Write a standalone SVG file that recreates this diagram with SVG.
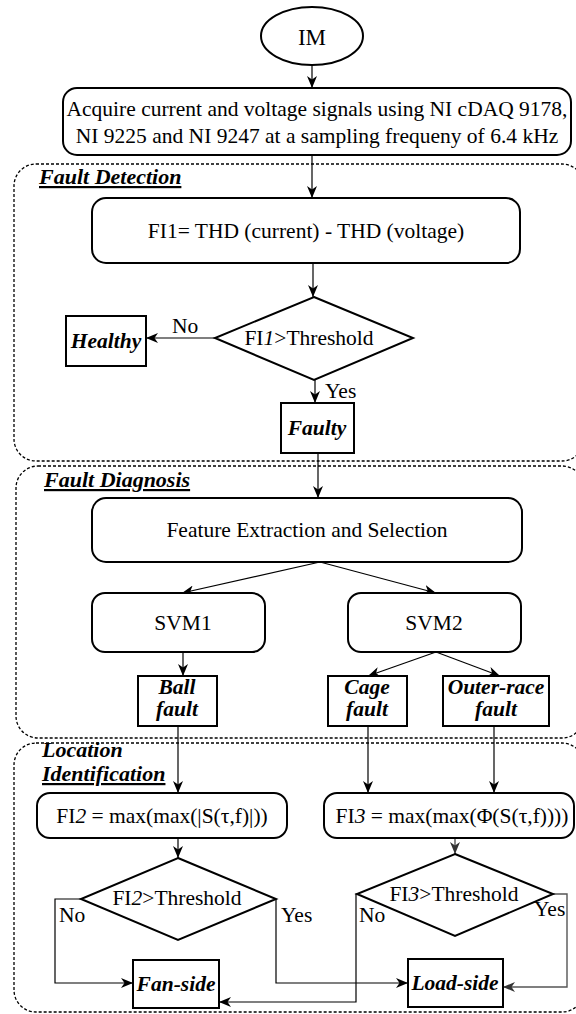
<svg xmlns="http://www.w3.org/2000/svg" width="576" height="1014" viewBox="0 0 576 1014">
<defs>
<marker id="ah" viewBox="0 0 12 10" refX="12" refY="5" markerWidth="12" markerHeight="10" markerUnits="userSpaceOnUse" orient="auto">
<path d="M0,0 L12,5 L0,10 L3.5,5 z" fill="#000"/>
</marker>
<marker id="ahg" viewBox="0 0 12 10" refX="12" refY="5" markerWidth="12" markerHeight="10" markerUnits="userSpaceOnUse" orient="auto">
<path d="M0,0 L12,5 L0,10 L3.5,5 z" fill="#333"/>
</marker>
</defs>
<style>
.box{fill:#fff;stroke:#000;stroke-width:2}
.sec{fill:none;stroke:#000;stroke-width:1.3;stroke-dasharray:3,2}
.ln{fill:none;stroke:#000;stroke-width:1.2}
.lg{fill:none;stroke:#555;stroke-width:1.4}
</style>
<rect width="576" height="1014" fill="#fff"/>
<g font-family="Liberation Serif" font-size="21.5" fill="#000">
<g id="sec-detection">
<rect class="sec" x="14" y="164" width="570" height="297" rx="22"/>
<text x="39" y="184" font-weight="bold" font-style="italic" font-size="22" text-decoration="underline">Fault Detection</text>
</g>
<g id="sec-diagnosis">
<rect class="sec" x="16" y="466" width="568" height="272" rx="22"/>
<text x="44" y="487" font-weight="bold" font-style="italic" font-size="22" text-decoration="underline">Fault Diagnosis</text>
</g>
<g id="sec-location">
<rect class="sec" x="14" y="743" width="570" height="269" rx="22"/>
<text x="42" y="757" font-weight="bold" font-style="italic" font-size="22">Location</text>
<text x="42" y="781" font-weight="bold" font-style="italic" font-size="22" text-decoration="underline">Identification</text>
</g>

<g id="connectors">
<line class="ln" x1="312" y1="65" x2="312" y2="88" marker-end="url(#ah)"/>
<line class="ln" x1="312" y1="155" x2="312" y2="198" marker-end="url(#ah)"/>
<line class="ln" x1="313" y1="263" x2="313" y2="297" marker-end="url(#ah)"/>
<line class="ln" x1="215" y1="338" x2="146" y2="338" marker-end="url(#ah)"/>
<text x="172" y="333">No</text>
<line class="ln" x1="315" y1="380" x2="315" y2="403" marker-end="url(#ah)"/>
<text x="325" y="398">Yes</text>
<line class="ln" x1="318" y1="453" x2="318" y2="498" marker-end="url(#ah)"/>
<line class="ln" x1="320" y1="562" x2="182" y2="593" marker-end="url(#ah)"/>
<line class="ln" x1="320" y1="562" x2="436" y2="593" marker-end="url(#ah)"/>
<line class="ln" x1="183" y1="652" x2="183" y2="676" marker-end="url(#ah)"/>
<line class="ln" x1="436" y1="652" x2="368" y2="676" marker-end="url(#ah)"/>
<line class="ln" x1="436" y1="652" x2="500" y2="676" marker-end="url(#ah)"/>
<line class="ln" x1="178" y1="726" x2="178" y2="793" marker-end="url(#ah)"/>
<line class="ln" x1="368" y1="726" x2="368" y2="793" marker-end="url(#ah)"/>
<line class="ln" x1="494" y1="726" x2="494" y2="793" marker-end="url(#ah)"/>
<line class="ln" x1="178" y1="838" x2="178" y2="858" marker-end="url(#ah)"/>
<line class="lg" x1="455" y1="838" x2="455" y2="854" marker-end="url(#ahg)"/>
<polyline class="ln" points="81,899 55,899 55,983 133,983" marker-end="url(#ah)"/>
<text x="59" y="922">No</text>
<polyline class="ln" points="276,899 276,983 408,983" marker-end="url(#ah)"/>
<text x="281" y="922">Yes</text>
<polyline class="ln" points="357,894 356,894 356,1002 219,1002" marker-end="url(#ah)"/>
<text x="359" y="922">No</text>
<polyline class="lg" points="553,894 567,894 567,987 503,987" marker-end="url(#ahg)"/>
<text x="534" y="916">Yes</text>
</g>

<g id="n-im">
<ellipse class="box" cx="312" cy="36" rx="51" ry="29"/>
<text x="312" y="45" text-anchor="middle" font-size="23">IM</text>
</g>
<g id="n-acquire" text-anchor="middle">
<rect class="box" x="63" y="88" width="508" height="67" rx="14"/>
<text x="317" y="116">Acquire current and voltage signals using NI cDAQ 9178,</text>
<text x="317" y="143">NI 9225 and NI 9247 at a sampling frequeny of 6.4 kHz</text>
</g>
<g id="n-fi1" text-anchor="middle">
<rect class="box" x="92" y="198" width="428" height="65" rx="14"/>
<text x="306" y="238">FI1= THD (current) - THD (voltage)</text>
</g>
<g id="n-dec1" text-anchor="middle">
<polygon class="box" points="314,297 413,338 314,380 215,338"/>
<text x="309" y="345">FI<tspan font-style="italic">1</tspan>&gt;Threshold</text>
</g>
<g id="n-healthy" text-anchor="middle" font-weight="bold" font-style="italic">
<rect class="box" x="66" y="316" width="80" height="50"/>
<text x="106" y="348">Healthy</text>
</g>
<g id="n-faulty" text-anchor="middle" font-weight="bold" font-style="italic">
<rect class="box" x="281" y="403" width="73" height="50"/>
<text x="317" y="435">Faulty</text>
</g>
<g id="n-feature" text-anchor="middle">
<rect class="box" x="92" y="498" width="430" height="64" rx="14"/>
<text x="307" y="537">Feature Extraction and Selection</text>
</g>
<g id="n-svm1" text-anchor="middle">
<rect class="box" x="92" y="593" width="173" height="59" rx="13"/>
<text x="183" y="630">SVM1</text>
</g>
<g id="n-svm2" text-anchor="middle">
<rect class="box" x="348" y="593" width="173" height="59" rx="13"/>
<text x="434" y="630">SVM2</text>
</g>
<g id="n-ball" text-anchor="middle" font-weight="bold" font-style="italic">
<rect class="box" x="138" y="676" width="79" height="50"/>
<text x="177" y="694">Ball</text>
<text x="177" y="716">fault</text>
</g>
<g id="n-cage" text-anchor="middle" font-weight="bold" font-style="italic">
<rect class="box" x="328" y="676" width="79" height="50"/>
<text x="367" y="694">Cage</text>
<text x="367" y="716">fault</text>
</g>
<g id="n-outer" text-anchor="middle" font-weight="bold" font-style="italic">
<rect class="box" x="443" y="676" width="106" height="50"/>
<text x="496" y="694">Outer-race</text>
<text x="496" y="716">fault</text>
</g>
<g id="n-fi2" text-anchor="middle">
<rect class="box" x="37" y="793" width="250" height="45" rx="13"/>
<text x="162" y="823">FI<tspan font-style="italic">2</tspan> = max(max(|S(τ,f)|))</text>
</g>
<g id="n-fi3" text-anchor="middle">
<rect class="box" x="324" y="793" width="250" height="45" rx="13"/>
<text x="452" y="823">FI<tspan font-style="italic">3</tspan> = max(max(Φ(S(τ,f))))</text>
</g>
<g id="n-dec2" text-anchor="middle">
<polygon class="box" points="178,858 276,899 178,940 81,899"/>
<text x="177" y="905">FI<tspan font-style="italic">2</tspan>&gt;Threshold</text>
</g>
<g id="n-dec3" text-anchor="middle">
<polygon class="box" points="455,854 553,894 455,936 357,894"/>
<text x="454" y="901">FI<tspan font-style="italic">3</tspan>&gt;Threshold</text>
</g>
<g id="n-fan" text-anchor="middle" font-weight="bold" font-style="italic">
<rect class="box" x="133" y="960" width="86" height="48"/>
<text x="176" y="991">Fan-side</text>
</g>
<g id="n-load" text-anchor="middle" font-weight="bold" font-style="italic">
<rect class="box" x="408" y="959" width="95" height="48"/>
<text x="455" y="990">Load-side</text>
</g>
</g>
</svg>
